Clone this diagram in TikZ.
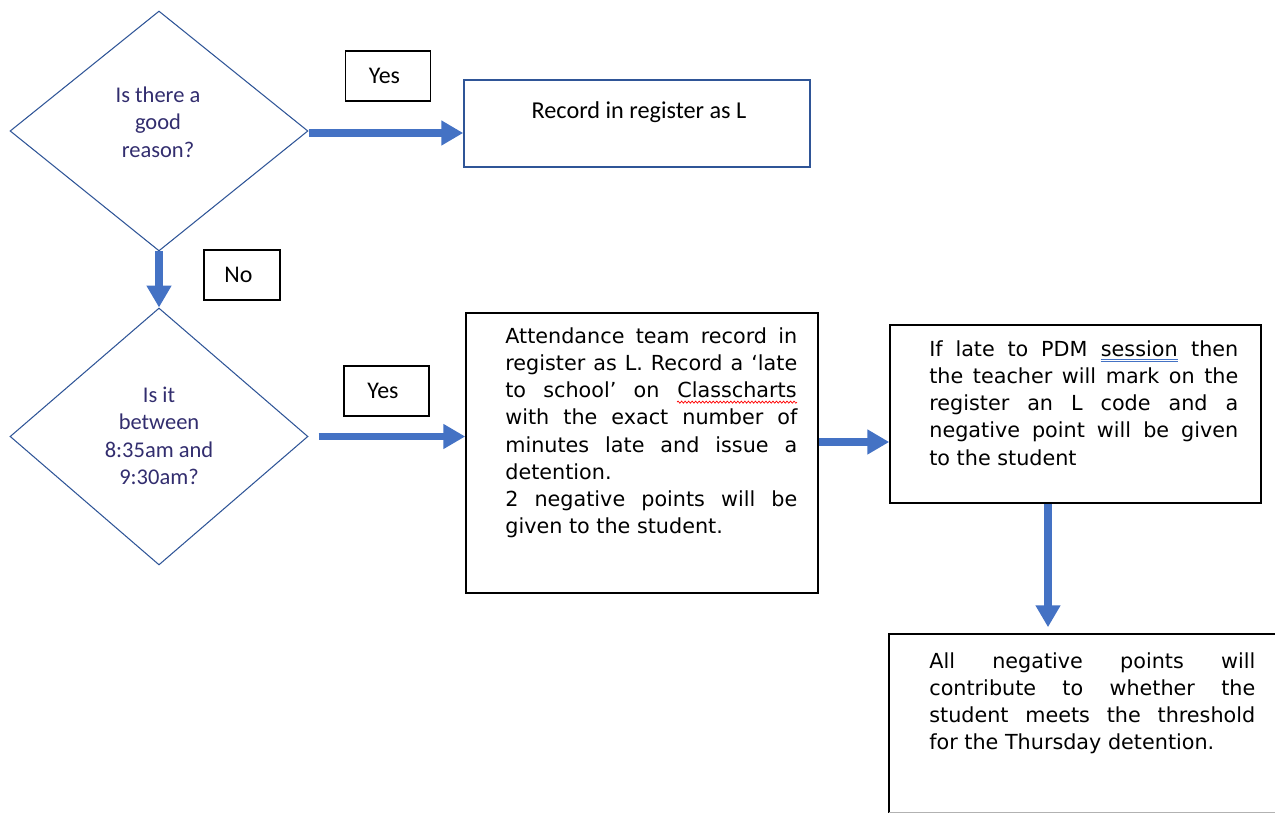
\documentclass[tikz,border=0pt]{standalone}
\usepackage{fontspec}
\setmainfont{DejaVu Sans}
\newfontfamily\calib{Carlito}
\usetikzlibrary{shapes.geometric, arrows.meta, decorations.pathmorphing}

\definecolor{flowblue}{RGB}{68,114,196}
\definecolor{edgeblue}{RGB}{47,85,151}
\definecolor{asktext}{RGB}{50,45,110}

% proofing marks under single words
\newcommand{\spellmark}[1]{\tikz[baseline=(w.base), x=1pt, y=1pt]{\node[inner sep=0pt] (w) {#1};
	\draw[red, line width=0.4pt, decorate, decoration={snake, amplitude=0.6pt, segment length=2pt}] ([yshift=-2.6pt]w.base west) -- ([yshift=-2.6pt]w.base east);}}
\newcommand{\grammark}[1]{\tikz[baseline=(w.base), x=1pt, y=1pt]{\node[inner sep=0pt] (w) {#1};
	\draw[flowblue, line width=0.4pt] ([yshift=-1.8pt]w.base west) -- ([yshift=-1.8pt]w.base east);
	\draw[flowblue, line width=0.4pt] ([yshift=-3pt]w.base west) -- ([yshift=-3pt]w.base east);}}

\tikzset{
	flow/.style = {draw=flowblue, line width=4.2pt, -{Triangle[length=12.5pt, width=13.5pt]}},
	ask/.style = {shape=diamond, draw=edgeblue, line width=0.6pt, inner sep=0pt},
	asktxt/.style = {align=center, text=asktext, inner sep=0pt, font=\calib\fontsize{12.8}{15.6}\selectfont},
	tag/.style = {draw, line width=0.9pt, minimum width=1.7cm, minimum height=1cm, inner sep=0pt, font=\calib\fontsize{13.6}{16}\selectfont},
	plainbox/.style = {draw, line width=0.9pt, inner sep=0pt},
	boxtxt/.style = {anchor=north west, inner sep=0pt, align=justify, font=\fontsize{11.8}{15.5}\selectfont}
}

\begin{document}
\begin{tikzpicture}[x=0.02cm, y=-0.02cm]
	\useasboundingbox (0,0) rectangle (1275,813);
	\clip (0,0) rectangle (1275,813);

	% first question
	\node[ask, minimum width=5.96cm, minimum height=4.8cm] (qA) at (159,131) {};
	\node[asktxt] (qAtxt) at (158,122) {Is there a\\good\\reason?};
	\node[tag] (yesA) at (388,76) {\hspace*{-4pt}Yes};
	\node[plainbox, draw=edgeblue, minimum width=6.92cm, minimum height=1.74cm] (rec) at (637,123.5) {};
	\node[inner sep=0pt, font=\calib\fontsize{13.8}{16}\selectfont] (rectxt) at (639,112) {Record in register as L};
	\coordinate (fromA) at ([shift={(0,2)}]qA.east);
	\draw[flow] (fromA) -- (fromA -| rec.west);

	% second question
	\node[tag, minimum width=1.52cm] (noA) at (242,275) {\hspace*{-4pt}No};
	\node[ask, minimum width=5.96cm, minimum height=5.14cm] (qB) at (159,436.5) {};
	\node[asktxt] (qBtxt) at (159,436) {Is it\\between\\8:35am and\\9:30am?};
	\draw[flow] (qA.south) -- (qB.north);
	\node[tag] (yesB) at (386.5,391) {\hspace*{-4pt}Yes};

	% attendance team
	\node[plainbox, minimum width=7.04cm, minimum height=5.6cm] (att) at (642,453) {};
	\node[boxtxt, text width=5.84cm] (atttxt) at (505,327) {Attendance team record in\linebreak
		register as L. Record a ‘late\linebreak
		to school’ on \spellmark{Classcharts}\linebreak
		with the exact number of\linebreak
		minutes late and issue a\linebreak
		detention.\\
		2 negative points will be\linebreak
		given to the student.};
	\coordinate (fromB) at ([shift={(10,0)}]qB.east);
	\draw[flow] (fromB) -- (fromB -| att.west);

	% PDM session
	\node[plainbox, minimum width=7.42cm, minimum height=3.56cm] (pdm) at (1075.5,414) {};
	\node[boxtxt, text width=6.18cm] (pdmtxt) at (929,340) {If late to PDM \grammark{session} then\linebreak
		the teacher will mark on the\linebreak
		register an L code and a\linebreak
		negative point will be given\linebreak
		to the student};
	\coordinate (fromAtt) at ([shift={(0,-11)}]att.east);
	\draw[flow] (fromAtt) -- (fromAtt -| pdm.west);

	% threshold, running off the page on the right
	\node[plainbox, draw=none, minimum width=10cm, minimum height=3.54cm] (fin) at (1140,723.5) {};
	\draw[line width=0.9pt] (fin.north east) -- (fin.north west) -- (fin.south west);
	\draw[line width=0.9pt, black!30] (fin.south west) -- (fin.south east);
	\node[boxtxt, text width=6.52cm] (fintxt) at (929,652) {All negative points will\linebreak
		contribute to whether the\linebreak
		student meets the threshold\linebreak
		for the Thursday detention.};
	\coordinate (fromPdm) at ([shift={(-27.5,0)}]pdm.south);
	\draw[flow] (fromPdm) -- ([shift={(0,-7)}]fromPdm |- fin.north);
\end{tikzpicture}
\end{document}
